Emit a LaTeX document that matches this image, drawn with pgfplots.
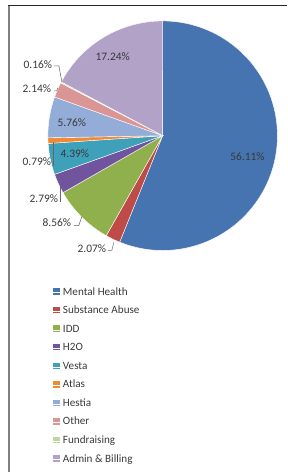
\documentclass[border=0pt]{standalone}
\usepackage{pgfplots}
\pgfplotsset{compat=1.18}
\usepackage{fontspec}
\setmainfont{Carlito}
\definecolor{cMH}{HTML}{4674B0}
\definecolor{cSA}{HTML}{BE4B48}
\definecolor{cIDD}{HTML}{8FB04C}
\definecolor{cH2O}{HTML}{70559E}
\definecolor{cVesta}{HTML}{3FA0BA}
\definecolor{cAtlas}{HTML}{F08A35}
\definecolor{cHestia}{HTML}{93ADD8}
\definecolor{cOther}{HTML}{DA9694}
\definecolor{cFund}{HTML}{C3D69B}
\definecolor{cAdmin}{HTML}{B3A2C7}
\definecolor{txt}{HTML}{383838}
\begin{document}
\begin{tikzpicture}
\begin{axis}[
  width=288bp, height=473bp, scale only axis,
  xmin=0, xmax=288, ymin=0, ymax=473,
  hide axis, clip=false,
  legend cell align=left,
  legend style={at={(axis cs:53,186)}, anchor=north west, draw=none, fill=none,
    font=\fontsize{11.2}{13}\selectfont, text=txt, row sep=6.6bp, inner sep=0pt,
    nodes={inner sep=1bp, text height=7.5bp, text depth=2.5bp}},
  legend image code/.code={\fill[#1, draw=none] (0bp,-2.2bp) rectangle (6.5bp,4.3bp); \path (0bp,0bp) -- (8.5bp,0bp);},
]
\path (axis cs:0,0) rectangle (axis cs:288,473);
% percentages of each slice, clockwise from 12 o'clock
\gdef\cum{0}
\foreach \p/\c/\n in {
  56.11/cMH/Mental Health,
  2.07/cSA/Substance Abuse,
  8.56/cIDD/IDD,
  2.79/cH2O/H2O,
  4.39/cVesta/Vesta,
  0.79/cAtlas/Atlas,
  5.76/cHestia/Hestia,
  2.14/cOther/Other,
  0.16/cFund/Fundraising,
  17.24/cAdmin/Admin \& Billing} {
  \pgfmathsetmacro\a{90-3.6*\cum}
  \pgfmathsetmacro\newcum{\cum+\p}
  \pgfmathsetmacro\b{90-3.6*\newcum}
  \xdef\cum{\newcum}
  \edef\temp{\noexpand\addplot[fill=\c, draw=white, line width=0.4bp, domain=\b:\a, samples=120, variable=\noexpand\t]
    ({163+115*cos(\noexpand\t)},{337+115*sin(\noexpand\t)}) -- (axis cs:163,337) -- cycle;
    \noexpand\addlegendentry{\n}}
  \temp
}
% frame
\draw[black!85, line width=1bp] (axis cs:8,467) -- (axis cs:288,467);
\draw[gray, line width=2bp] (axis cs:9,467) -- (axis cs:9,0);
% labels
\begin{scope}[every node/.style={font=\fontsize{11.5}{13}\selectfont, text=txt, inner sep=0pt}]
\node at (axis cs:248,316) {56.11\%};
\node at (axis cs:113,416) {17.24\%};
\node at (axis cs:72,350) {5.76\%};
\node at (axis cs:75,319) {4.39\%};
\node at (axis cs:38,408) {0.16\%};
\node at (axis cs:37,384) {2.14\%};
\node at (axis cs:37,311) {0.79\%};
\node at (axis cs:44,274) {2.79\%};
\node at (axis cs:57,250) {8.56\%};
\node at (axis cs:92,224) {2.07\%};
\end{scope}
\begin{scope}[gray!80!black, line width=0.5bp]
\draw (axis cs:54,407) -- (axis cs:59,407) -- (axis cs:62,391);
\draw (axis cs:54,382) -- (axis cs:57,382) -- (axis cs:58,385);
\draw (axis cs:53,307) -- (axis cs:53,331);
\draw (axis cs:60,271) -- (axis cs:60,286);
\draw (axis cs:74,247) -- (axis cs:79,247) -- (axis cs:82,256);
\draw (axis cs:108,222) -- (axis cs:112,222) -- (axis cs:114,230);
\end{scope}
\end{axis}
\end{tikzpicture}
\end{document}
